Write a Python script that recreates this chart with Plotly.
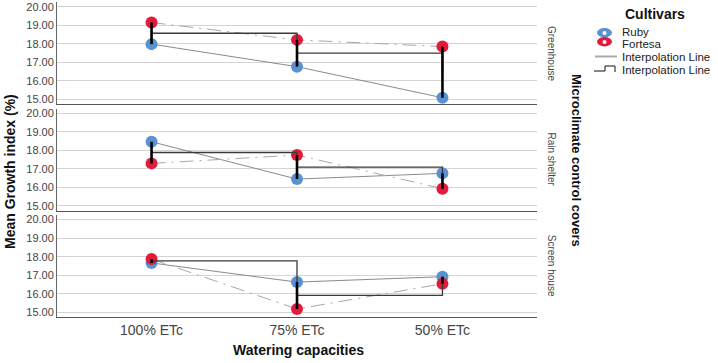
import plotly.graph_objects as go

# ---------------- data ----------------
categories = ["100% ETc", "75% ETc", "50% ETc"]
panels = ["Greenhouse", "Rain shelter", "Screen house"]
ruby = {
    "Greenhouse": [17.99, 16.77, 15.09],
    "Rain shelter": [18.47, 16.45, 16.76],
    "Screen house": [17.66, 16.63, 16.92],
}
fortesa = {
    "Greenhouse": [19.16, 18.22, 17.86],
    "Rain shelter": [17.30, 17.75, 15.93],
    "Screen house": [17.87, 15.18, 16.54],
}
step_means = {
    "Greenhouse": [18.58, 17.50, 16.48],
    "Rain shelter": [17.89, 17.10, 16.35],
    "Screen house": [17.77, 15.91, 16.73],
}
y_ticks = [15, 16, 17, 18, 19, 20]
y_tick_labels = ["15.00", "16.00", "17.00", "18.00", "19.00", "20.00"]

# ---------------- layout geometry (pixels) ----------------
W, H = 718, 363
L, R = 57, 537          # plot left/right
T, B = 2, 317           # plot top/bottom
PW, PH = R - L, B - T

def px_x(p):
    return (p - L) / PW

def px_y(p):
    return (B - p) / PH

panel_px = [(2, 104), (108.5, 210.5), (214.5, 317)]

BLUE = "rgb(90,145,210)"
RED = "rgb(225,28,58)"
FONT = "Arial, Liberation Sans, sans-serif"

fig = go.Figure()

for i, p in enumerate(panels):
    ax = "" if i == 0 else str(i + 1)
    xa, ya = "x" + ax, "y" + ax
    # Ruby interpolation line (solid)
    fig.add_trace(go.Scatter(x=categories, y=ruby[p], mode="lines", xaxis=xa, yaxis=ya,
                             line=dict(color="#8a8a8a", width=1), showlegend=False, hoverinfo="skip"))
    # Fortesa interpolation line (dash-dot)
    fig.add_trace(go.Scatter(x=categories, y=fortesa[p], mode="lines", xaxis=xa, yaxis=ya,
                             line=dict(color="#a8a8a8", width=1, dash="14px,6px,2px,6px"),
                             showlegend=False, hoverinfo="skip"))
    # markers
    fig.add_trace(go.Scatter(x=categories, y=ruby[p], mode="markers", xaxis=xa, yaxis=ya,
                             marker=dict(color=BLUE, size=12, line=dict(width=0)),
                             showlegend=False, name="Ruby"))
    fig.add_trace(go.Scatter(x=categories, y=fortesa[p], mode="markers", xaxis=xa, yaxis=ya,
                             marker=dict(color=RED, size=12, line=dict(width=0)),
                             showlegend=False, name="Fortesa"))
    # step interpolation line
    fig.add_trace(go.Scatter(x=categories, y=step_means[p], mode="lines", xaxis=xa, yaxis=ya,
                             line=dict(color="#3a3a3a", width=1.3, shape="hv"),
                             showlegend=False, hoverinfo="skip"))
    # thick drop lines between cultivars
    dx, dy = [], []
    for c, a, b in zip(categories, ruby[p], fortesa[p]):
        dx += [c, c, None]
        dy += [a, b, None]
    fig.add_trace(go.Scatter(x=dx, y=dy, mode="lines", xaxis=xa, yaxis=ya,
                             line=dict(color="black", width=2.6),
                             showlegend=False, hoverinfo="skip"))

layout = dict(
    width=W, height=H,
    margin=dict(l=L, r=W - R, t=T, b=H - B),
    plot_bgcolor="white", paper_bgcolor="white",
    font=dict(family=FONT, color="#333"),
    showlegend=False,
)

for i in range(3):
    ax = "" if i == 0 else str(i + 1)
    top, bot = panel_px[i]
    layout["yaxis" + ax] = dict(
        domain=[px_y(bot), px_y(top)], range=[14.75, 20.27],
        tickvals=y_ticks, ticktext=y_tick_labels,
        tickfont=dict(size=11, color="#444"),
        showgrid=True, gridcolor="#d4d4d4", gridwidth=1,
        showline=True, linecolor="#666", linewidth=1,
        zeroline=False, ticks="", anchor="x" + ax,
    )
    layout["xaxis" + ax] = dict(
        domain=[0, 1], range=[-0.65, 2.65], type="category",
        categoryorder="array", categoryarray=categories,
        showgrid=False, zeroline=False,
        showline=True, linecolor="#555", linewidth=1,
        showticklabels=(i == 2), ticks="",
        tickfont=dict(size=14, color="#444"),
        anchor="y" + ax,
        matches=None if i == 0 else "x",
    )

fig.update_layout(**layout)

ann = []
# strip labels
for i, p in enumerate(panels):
    top, bot = panel_px[i]
    ann.append(dict(x=px_x(551), y=px_y((top + bot) / 2), xref="paper", yref="paper",
                    text=p, textangle=90, showarrow=False,
                    font=dict(size=10, color="#444"), xanchor="center", yanchor="middle"))
# right title
ann.append(dict(x=px_x(577), y=px_y(160), xref="paper", yref="paper",
                text="<b>Microclimate control covers</b>", textangle=90, showarrow=False,
                font=dict(size=13, color="#111"), xanchor="center", yanchor="middle"))
# y title
ann.append(dict(x=px_x(10), y=px_y(172), xref="paper", yref="paper",
                text="<b>Mean Growth index (%)</b>", textangle=-90, showarrow=False,
                font=dict(size=14, color="#111"), xanchor="center", yanchor="middle"))
# x title
ann.append(dict(x=px_x(298), y=px_y(350), xref="paper", yref="paper",
                text="<b>Watering capacities</b>", showarrow=False,
                font=dict(size=14, color="#111"), xanchor="center", yanchor="middle"))
# legend
ann.append(dict(x=px_x(655), y=px_y(14), xref="paper", yref="paper",
                text="<b>Cultivars</b>", showarrow=False,
                font=dict(size=14, color="#111"), xanchor="center", yanchor="middle"))
legend_items = ["Ruby", "Fortesa", "Interpolation Line", "Interpolation Line"]
legend_y = [32, 44, 57, 70]
for t, yy in zip(legend_items, legend_y):
    ann.append(dict(x=px_x(620), y=px_y(yy), xref="paper", yref="paper",
                    text=t, showarrow=False, font=dict(size=11.5, color="#222"),
                    xanchor="left", yanchor="middle"))

shapes = [
    dict(type="circle", xref="paper", yref="paper",
         x0=px_x(597), x1=px_x(612), y0=px_y(37.5), y1=px_y(28),
         fillcolor=BLUE, line=dict(width=0)),
    dict(type="circle", xref="paper", yref="paper",
         x0=px_x(597), x1=px_x(612), y0=px_y(46.5), y1=px_y(37),
         fillcolor=RED, line=dict(width=0)),
    dict(type="circle", xref="paper", yref="paper",
         x0=px_x(602.5), x1=px_x(606.5), y0=px_y(35), y1=px_y(31),
         fillcolor="white", line=dict(width=0)),
    dict(type="circle", xref="paper", yref="paper",
         x0=px_x(602.5), x1=px_x(606.5), y0=px_y(44), y1=px_y(40),
         fillcolor="white", line=dict(width=0)),
    dict(type="line", xref="paper", yref="paper",
         x0=px_x(595), x1=px_x(617), y0=px_y(56.5), y1=px_y(56.5),
         line=dict(color="#aaaaaa", width=2)),
    dict(type="path", xref="paper", yref="paper",
         path="M {a},{b} L {c},{b} L {c},{d} L {e},{d} L {e},{f}".format(
             a=px_x(594), b=px_y(71), c=px_x(605), d=px_y(66), e=px_x(615), f=px_y(72)),
         line=dict(color="#111", width=1)),
]

fig.update_layout(annotations=ann, shapes=shapes)
fig.write_html("out.html", config={"displayModeBar": False},
               post_script="document.body.style.margin='0';document.body.style.padding='0';")
